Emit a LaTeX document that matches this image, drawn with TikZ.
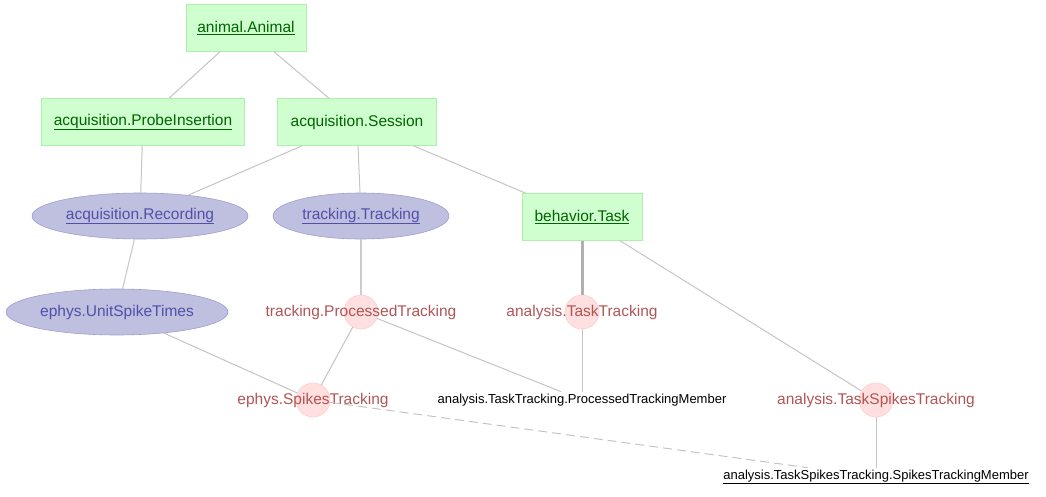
\documentclass[tikz,border=0pt]{standalone}
\usepackage{fontspec}
\setmainfont{Liberation Sans}
\usepackage{tikz}
\usetikzlibrary{shapes.geometric}

\definecolor{manfill}{RGB}{207,255,207}
\definecolor{mandraw}{RGB}{172,240,172}
\definecolor{mantext}{RGB}{0,100,0}
\definecolor{impfill}{RGB}{191,191,223}
\definecolor{impdraw}{RGB}{158,158,210}
\definecolor{imptext}{RGB}{80,80,170}
\definecolor{compfill}{RGB}{255,223,223}
\definecolor{compdraw}{RGB}{255,205,205}
\definecolor{comptext}{RGB}{178,84,84}
\definecolor{edgegray}{RGB}{196,196,196}

\begin{document}
\begin{tikzpicture}[x=1pt,y=-1pt,semithick,
    tbl/.style={font=\fontsize{15.5}{18}\selectfont},
    manual/.style={tbl,rectangle,draw=mandraw,fill=manfill,text=mantext,minimum height=47pt},
    imported/.style={tbl,ellipse,draw=impdraw,fill=impfill,text=imptext,minimum height=46pt,inner sep=0pt},
    computed/.style={circle,draw=compdraw,fill=compfill,minimum size=34pt,inner sep=0pt},
    comptitle/.style={tbl,text=comptext},
    part/.style={font=\fontsize{13}{15}\selectfont,inner sep=2pt},
    dep/.style={draw=edgegray,line width=1pt},
    onetoone/.style={draw=edgegray!85,line width=2.2pt},
    master/.style={draw=edgegray!90!black,line width=3pt},
    sec/.style={dep,dash pattern=on 9pt off 5pt}]
            \useasboundingbox (0,0) rectangle (1046,497);

            % manual tables
            \node   [manual,minimum width=120pt]    (animal)    at (246,28)  {\underline{animal.Animal}};
            \node   [manual,minimum width=203pt]    (probe)     at (143,122) {\underline{acquisition.ProbeInsertion}};
            \node   [manual,minimum width=159pt]    (session)   at (357,122) {acquisition.Session};
            \node   [manual,minimum width=120pt]    (task)      at (582,217) {\underline{behavior.Task}};

            % imported tables
            \node   [imported,minimum width=216pt]  (recording) at (140,216) {\underline{acquisition.Recording}};
            \node   [imported,minimum width=176pt]  (tracking)  at (361,216) {\underline{tracking.Tracking}};
            \node   [imported,minimum width=222pt]  (unitspike) at (117,312) {ephys.UnitSpikeTimes};

            % computed tables
            \node   [computed,label={[comptitle]center:tracking.ProcessedTracking}]  (proctrack)  at (361,312) {};
            \node   [computed,label={[comptitle]center:analysis.TaskTracking}]       (tasktrack)  at (582,312) {};
            \node   [computed,label={[comptitle]center:ephys.SpikesTracking}]        (spiketrack) at (313,400) {};
            \node   [computed,label={[comptitle]center:analysis.TaskSpikesTracking}] (taskspike)  at (876,400) {};

            % part tables
            \node   [part]  (procmember)  at (582,400) {analysis.TaskTracking.ProcessedTrackingMember};
            \node   [part]  (spikemember) at (876,477) {\underline{analysis.TaskSpikesTracking.SpikesTrackingMember}};

            \path   (animal) edge [dep] (probe)
            (animal) edge [dep] (session);
            \path   (probe) edge [dep] (recording)
            (session) edge [dep] (recording)
            (session) edge [dep] (tracking)
            (session) edge [dep] (task);
            \path   (recording) edge [dep] (unitspike)
            (tracking) edge [onetoone] (proctrack)
            (task) edge [master] (tasktrack)
            (task) edge [dep] (taskspike);
            \path   (proctrack) edge [dep] (spiketrack)
            (proctrack) edge [dep] (procmember)
            (tasktrack) edge [dep] (procmember)
            (unitspike) edge [dep] (spiketrack);
            \path   (spiketrack) edge [sec] (spikemember)
            (taskspike) edge [dep] (spikemember);
        \end{tikzpicture}
\end{document}
